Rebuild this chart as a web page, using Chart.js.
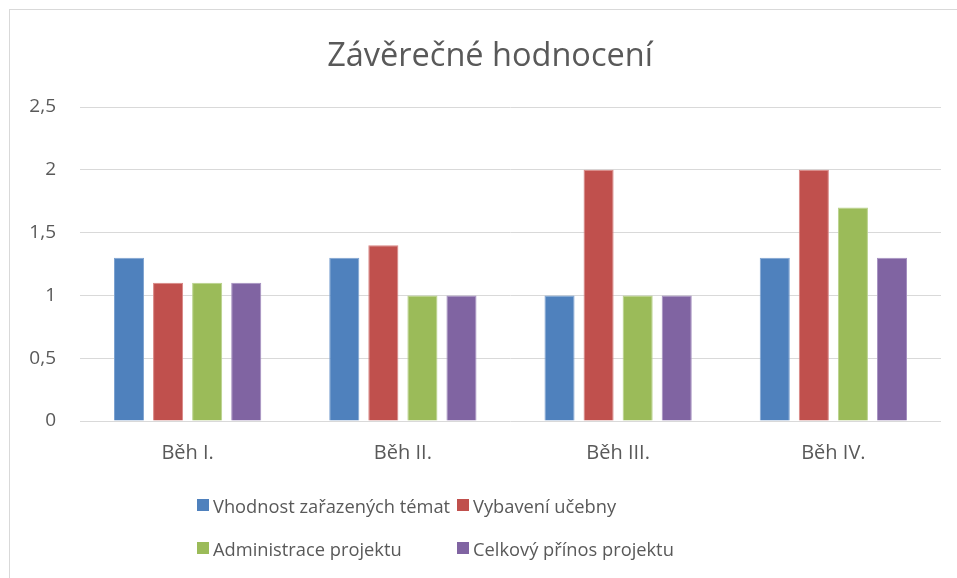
<!DOCTYPE html>
<html>
<head>
<meta charset="utf-8">
<script src="https://cdn.jsdelivr.net/npm/chart.js@4"></script>
<style>
  html, body { margin: 0; padding: 0; background: #fff; overflow: hidden; }
  #frame {
    position: absolute; left: 9px; top: 9px; width: 980px; height: 600px;
    border: 1px solid #d9d9d9; box-sizing: border-box;
  }
  #wrap { position: absolute; left: 0; top: 0; width: 957px; height: 578px; }
  #legend {
    position: absolute; left: 197px; top: 492px;
    display: grid; grid-template-columns: 260px 260px; row-gap: 17px;
    font-family: "Open Sans", sans-serif; font-size: 18.3px; color: #595959;
  }
  .item { display: flex; align-items: center; height: 26px; white-space: nowrap; }
  .box { width: 12px; height: 12px; margin-right: 4px; flex: none; }
</style>
</head>
<body>
<div id="frame"></div>
<div id="wrap"><canvas id="chart" width="957" height="578"></canvas></div>
<div id="legend"></div>
<script>
// Data
const categories = ["Běh I.", "Běh II.", "Běh III.", "Běh IV."];
const seriesNames = [
  "Vhodnost zařazených témat",
  "Vybavení učebny",
  "Administrace projektu",
  "Celkový přínos projektu",
];
const vhodnost = [1.3, 1.3, 1.0, 1.3];
const vybaveni = [1.1, 1.4, 2.0, 2.0];
const administrace = [1.1, 1.0, 1.0, 1.7];
const prinos = [1.1, 1.0, 1.0, 1.3];
const yTicks = [0, 0.5, 1, 1.5, 2, 2.5];

const colors = ["#4f81bd", "#c0504d", "#9bbb59", "#8064a2"];
const borders = ["#7ea3d1", "#d98583", "#b8d28a", "#a590c0"];
const textColor = "#595959";
const fontFamily = "'Open Sans', sans-serif";

const values = [vhodnost, vybaveni, administrace, prinos];

// The original title sits centred on the frame, not on the canvas minus padding,
// so nudge the title box after layout.
const titleCentre = {
  id: "titleCentre",
  afterLayout(chart) {
    const t = chart.titleBlock;
    if (t) t.left = 2 * 490 - t.right;
  },
};

const ctx = document.querySelector("#chart").getContext("2d");
const chart = new Chart(ctx, {
  type: "bar",
  data: {
    labels: categories,
    datasets: values.map((data, i) => ({
      label: seriesNames[i],
      data: data,
      backgroundColor: colors[i],
      borderColor: borders[i],
      borderWidth: 1,
      categoryPercentage: 0.726,
      barPercentage: 0.77,
    })),
  },
  plugins: [titleCentre],
  options: {
    responsive: false,
    animation: false,
    layout: { padding: { left: 0, right: 16, top: 0, bottom: 0 } },
    plugins: {
      legend: { display: false },
      tooltip: { enabled: false },
      title: {
        display: true,
        text: "Závěrečné hodnocení",
        color: textColor,
        font: { family: fontFamily, size: 32.5, weight: "normal" },
        padding: { top: 37, bottom: 31 },
      },
    },
    scales: {
      x: {
        grid: { display: false, drawTicks: false },
        border: { display: false },
        ticks: { color: textColor, font: { family: fontFamily, size: 20 }, padding: 20 },
        afterFit: (scale) => { scale.height = 157; },
      },
      y: {
        min: 0,
        max: 2.5,
        afterBuildTicks: (scale) => { scale.ticks = yTicks.map((v) => ({ value: v })); },
        grid: { color: "#d9d9d9", lineWidth: 1, drawTicks: false },
        border: { display: false },
        ticks: {
          color: textColor,
          font: { family: fontFamily, size: 19 },
          padding: 24,
          callback: (v) => String(v).replace(".", ","),
        },
        afterFit: (scale) => { scale.width = 80; },
      },
    },
  },
});

// Legend laid out in two aligned columns, like the original
const legendBox = document.querySelector("#legend");
legendBox.innerHTML = seriesNames
  .map((name, i) => `<div class="item"><span class="box" style="background:${colors[i]}"></span>${name}</div>`)
  .join("");
</script>
</body>
</html>
